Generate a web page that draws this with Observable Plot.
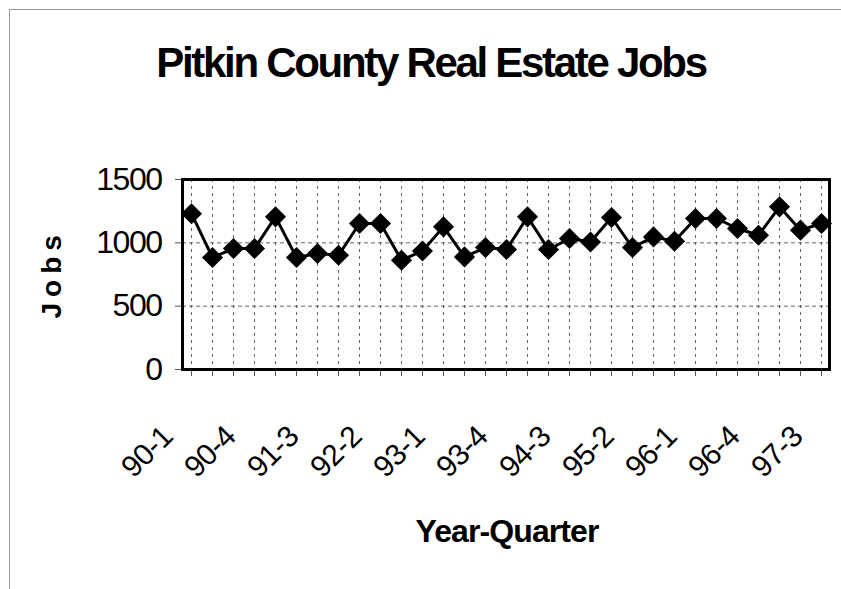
<!DOCTYPE html>
<html>
<head>
<meta charset="utf-8">
<script src="https://cdn.jsdelivr.net/npm/d3@7"></script>
<script src="https://cdn.jsdelivr.net/npm/@observablehq/plot@0.6"></script>
<style>
  html, body { margin: 0; padding: 0; background: #ffffff; }
  #wrap { position: relative; width: 841px; height: 589px; overflow: hidden; background: #fff; }
  #edge { position: absolute; left: 9px; top: 9px; right: -2px; bottom: -2px;
          border-left: 1px solid #9a9a9a; border-top: 1px solid #9a9a9a; pointer-events: none; }
</style>
</head>
<body>
<div id="wrap"><div id="edge"></div></div>
<script>
const quarters = ["90-1","90-2","90-3","90-4","91-1","91-2","91-3","91-4",
                  "92-1","92-2","92-3","92-4","93-1","93-2","93-3","93-4",
                  "94-1","94-2","94-3","94-4","95-1","95-2","95-3","95-4",
                  "96-1","96-2","96-3","96-4","97-1","97-2","97-3"];
const jobs = [1230, 884, 955, 955, 1205, 884, 916, 902,
              1153, 1153, 863, 936, 1126, 889, 963, 947,
              1205, 947, 1034, 1007, 1200, 963, 1047, 1013,
              1192, 1192, 1113, 1060, 1284, 1100, 1153];
const xTickLabels = ["90-1","90-4","91-3","92-2","93-1","93-4","94-3","95-2","96-1","96-4","97-3"];
const yTicks = [0, 500, 1000, 1500];
const yGrid = [500, 1000];
const titleText = "Pitkin County Real Estate Jobs";
const xLabel = "Year-Quarter";
const yLabel = "Jobs";

const data = quarters.map((q, i) => ({q, v: jobs[i]}));
const font = "'Liberation Sans', Arial, sans-serif";

const chart = Plot.plot({
  width: 841,
  height: 589,
  marginLeft: 182,
  marginRight: 12,
  marginTop: 179,
  marginBottom: 220,
  style: {fontFamily: font, background: "transparent", overflow: "visible", color: "black"},
  x: {type: "point", domain: quarters, padding: 0, axis: null},
  y: {domain: [0, 1500], axis: null},
  marks: [
    Plot.gridX(quarters, {stroke: "#555", strokeOpacity: 0.9, strokeDasharray: "3,4", strokeWidth: 1}),
    Plot.gridY(yGrid, {stroke: "#555", strokeOpacity: 0.9, strokeDasharray: "4,3", strokeWidth: 1}),
    Plot.axisX(quarters, {tickSize: 7, tickFormat: () => "", label: null, stroke: "#555", strokeWidth: 1}),
    Plot.axisX(xTickLabels, {tickSize: 0, tickRotate: -45, tickPadding: 62, dx: -24, fontSize: 30, label: null, fill: "black"}),
    Plot.axisY(yTicks, {tickSize: 7, tickPadding: 14, fontSize: 32, label: null, tickFormat: d => String(d), stroke: "#555", fill: "black"}),
    Plot.frame({stroke: "black", strokeWidth: 3}),
    Plot.line(data, {x: "q", y: "v", stroke: "black", strokeWidth: 3}),
    Plot.dot(data, {x: "q", y: "v", symbol: "diamond2", r: 9.5, fill: "black", stroke: "none"}),
    Plot.text([titleText], {frameAnchor: "top", dx: -75, dy: -116, fontSize: 42, fontWeight: "bold", fill: "black", lineAnchor: "middle", text: d => d}),
    Plot.text([xLabel], {frameAnchor: "bottom", dx: 1, dy: 162, fontSize: 32, fontWeight: "bold", fill: "black", lineAnchor: "middle", text: d => d}),
    Plot.text([yLabel], {frameAnchor: "left", dx: -130, dy: 44, rotate: -90, textAnchor: "start", fontSize: 28, fontWeight: "bold", fill: "black", lineAnchor: "middle", text: d => d})
  ]
});

// text fine-tuning (the scanned original is stretched vertically, so horizontal text is tight)
const yTickStrings = yTicks.map(String);
d3.select(chart).selectAll("text").each(function() {
  const t = this.textContent;
  if (t === titleText) this.style.letterSpacing = "-2.3px";
  else if (t === xLabel) this.style.letterSpacing = "-0.9px";
  else if (t === yLabel) this.style.letterSpacing = "6px";
  else if (xTickLabels.includes(t)) { this.style.fontSize = "30px"; this.style.letterSpacing = "-0.6px"; }
  else if (yTickStrings.includes(t)) { this.style.fontSize = "32px"; this.style.letterSpacing = "-1.5px"; }
});

document.getElementById("wrap").appendChild(chart);
</script>
</body>
</html>
